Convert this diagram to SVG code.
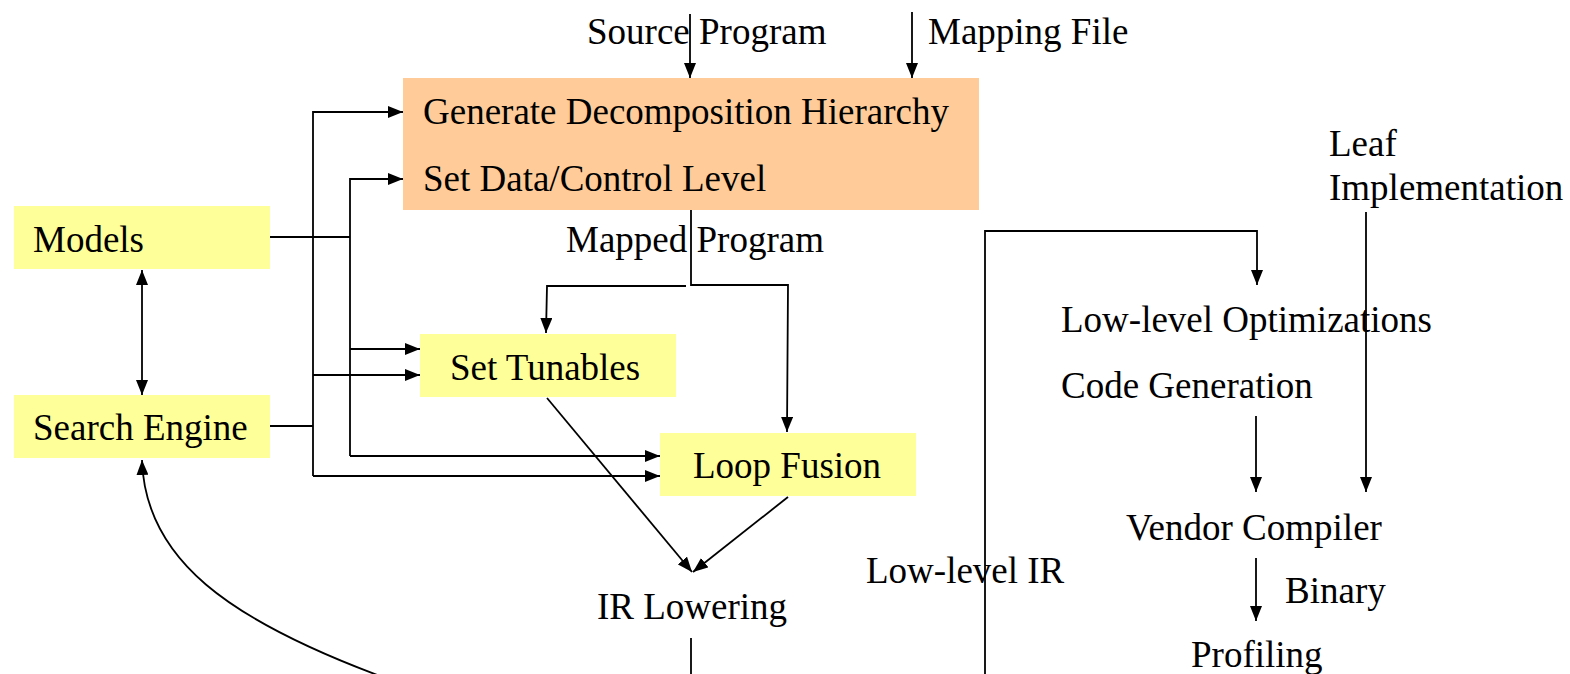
<svg xmlns="http://www.w3.org/2000/svg" width="1570" height="674" viewBox="0 0 1570 674">
<style>
text{font-family:'Liberation Serif','DejaVu Serif',serif;font-size:37px;fill:#000}
.c{fill:none;stroke:#000;stroke-width:1.8}
.y{fill:#FFFF99}
.o{fill:#FFCC99}
</style>
<defs>
<marker id="a" markerUnits="userSpaceOnUse" markerWidth="15" markerHeight="12" refX="15" refY="6" orient="auto-start-reverse"><path d="M0,0 L15,6 L0,12 z" fill="#000"/></marker>
</defs>
<rect width="1570" height="674" fill="#fff"/>
<g id="decomp"><rect class="o" x="403" y="78" width="576" height="132"/><text x="423" y="124" font-family="Liberation Serif, serif">Generate Decomposition Hierarchy</text><text x="423" y="191">Set Data/Control Level</text></g>
<g id="models"><rect class="y" x="14" y="206" width="256" height="63"/><text x="33" y="252">Models</text></g>
<g id="search"><rect class="y" x="14" y="395" width="256" height="63"/><text x="33" y="440">Search Engine</text></g>
<g id="tunables"><rect class="y" x="420" y="334" width="256" height="63"/><text x="450" y="380">Set Tunables</text></g>
<g id="fusion"><rect class="y" x="660" y="433" width="256" height="63"/><text x="693" y="478">Loop Fusion</text></g>
<g id="labels">
<text x="587" y="44">Source Program</text>
<text x="928" y="44">Mapping File</text>
<text x="566" y="252">Mapped Program</text>
<text x="597" y="619">IR Lowering</text>
<text x="866" y="583">Low-level IR</text>
<text x="1329" y="156">Leaf</text>
<text x="1329" y="200">Implementation</text>
<text x="1061" y="332">Low-level Optimizations</text>
<text x="1061" y="398">Code Generation</text>
<text x="1126" y="540">Vendor Compiler</text>
<text x="1285" y="603">Binary</text>
<text x="1191" y="667">Profiling</text>
</g>
<g id="connectors">
<path class="c" d="M690,14 V78" marker-end="url(#a)"/>
<path class="c" d="M912,12 V78" marker-end="url(#a)"/>
<path class="c" d="M313,476 V112 H403" marker-end="url(#a)"/>
<path class="c" d="M313,476 H660" marker-end="url(#a)"/>
<path class="c" d="M313,375 H420" marker-end="url(#a)"/>
<path class="c" d="M270,426 H313"/>
<path class="c" d="M350,456 V179 H403" marker-end="url(#a)"/>
<path class="c" d="M350,456 H660" marker-end="url(#a)"/>
<path class="c" d="M350,349 H420" marker-end="url(#a)"/>
<path class="c" d="M270,237 H350"/>
<path class="c" d="M142,270 V395" marker-start="url(#a)" marker-end="url(#a)"/>
<path class="c" d="M691,210 V285 H788 L787,432" marker-end="url(#a)"/>
<path class="c" d="M686,286 H547 L546,333" marker-end="url(#a)"/>
<path class="c" d="M547,398 L692,572" marker-end="url(#a)"/>
<path class="c" d="M788,497 L693,572" marker-end="url(#a)"/>
<path class="c" d="M691,638 V674"/>
<path class="c" d="M380,676 C230,620 145,560 142,460" marker-end="url(#a)"/>
<path class="c" d="M985,674 V231 H1257 V285" marker-end="url(#a)"/>
<path class="c" d="M1366,212 V492" marker-end="url(#a)"/>
<path class="c" d="M1256,416 V492" marker-end="url(#a)"/>
<path class="c" d="M1256,558 V621" marker-end="url(#a)"/>
</g>
</svg>
